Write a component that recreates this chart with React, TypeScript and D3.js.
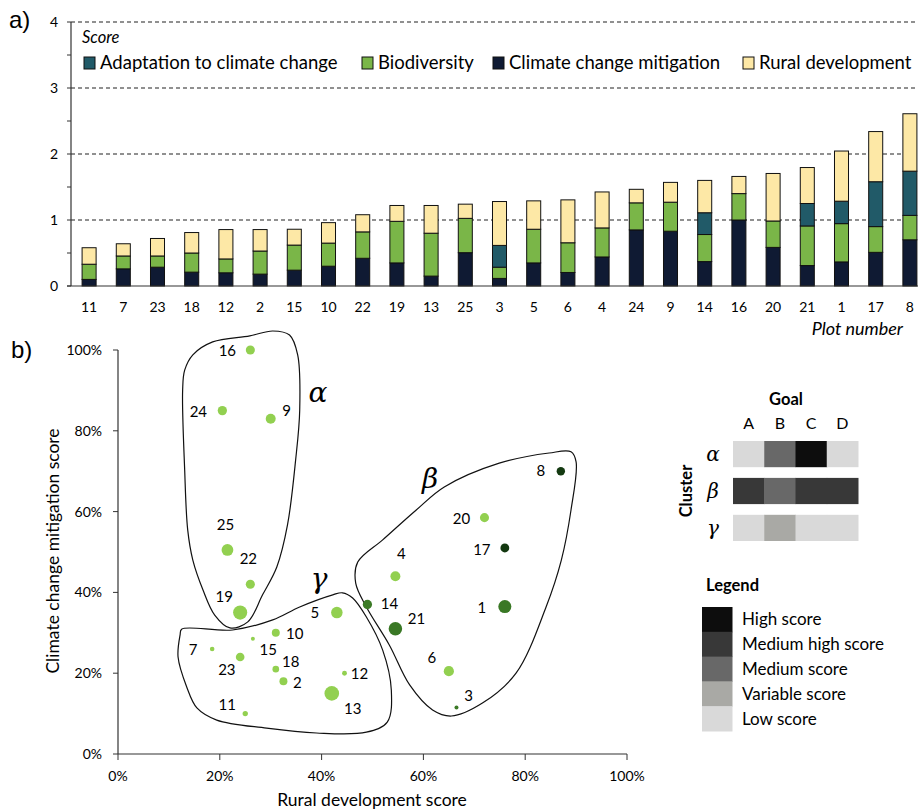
import React, { useRef, useEffect } from "react";
import * as d3 from "d3";

// plot numbers, in the order of panel a)
const plots = ["11", "7", "23", "18", "12", "2", "15", "10", "22", "19", "13", "25", "3", "5", "6", "4", "24", "9", "14", "16", "20", "21", "1", "17", "8"];
const mitigation = [0.10, 0.26, 0.285, 0.21, 0.20, 0.18, 0.24, 0.30, 0.42, 0.35, 0.15, 0.505, 0.115, 0.35, 0.205, 0.44, 0.85, 0.83, 0.37, 1.00, 0.585, 0.31, 0.365, 0.51, 0.70];
const biodiversity = [0.23, 0.195, 0.17, 0.29, 0.21, 0.35, 0.38, 0.35, 0.40, 0.63, 0.65, 0.52, 0.17, 0.51, 0.45, 0.44, 0.41, 0.44, 0.41, 0.40, 0.40, 0.60, 0.58, 0.39, 0.37];
const adaptation = [0, 0, 0, 0, 0, 0, 0, 0, 0, 0, 0, 0, 0.33, 0, 0, 0, 0, 0, 0.33, 0, 0, 0.34, 0.34, 0.68, 0.67];
const rural = [0.25, 0.185, 0.265, 0.31, 0.445, 0.325, 0.24, 0.31, 0.26, 0.24, 0.42, 0.215, 0.665, 0.43, 0.65, 0.545, 0.205, 0.30, 0.49, 0.26, 0.72, 0.545, 0.76, 0.76, 0.87];

const scoreTicks = [0, 1, 2, 3, 4];
const pctTicks = [0, 0.2, 0.4, 0.6, 0.8, 1];

// cluster outlines in (rural, mitigation) units
const hullAlpha = [[0.127, 0.901], [0.131, 0.703], [0.137, 0.554], [0.147, 0.48], [0.167, 0.406], [0.19, 0.344], [0.22, 0.312], [0.255, 0.327], [0.284, 0.394], [0.312, 0.463], [0.333, 0.567], [0.349, 0.728], [0.357, 0.851], [0.353, 0.988], [0.337, 1.037], [0.304, 1.047], [0.259, 1.035], [0.186, 1.02], [0.147, 0.988], [0.131, 0.95]];
const hullBeta = [[0.52, 0.53], [0.586, 0.604], [0.641, 0.661], [0.749, 0.72], [0.847, 0.745], [0.89, 0.748], [0.9, 0.723], [0.89, 0.604], [0.871, 0.48], [0.841, 0.364], [0.782, 0.2], [0.716, 0.126], [0.655, 0.094], [0.618, 0.109], [0.573, 0.171], [0.533, 0.27], [0.488, 0.364], [0.467, 0.423], [0.471, 0.475]];
const hullGamma = [[0.125, 0.309], [0.225, 0.307], [0.304, 0.332], [0.357, 0.364], [0.422, 0.394], [0.441, 0.399], [0.461, 0.386], [0.488, 0.339], [0.52, 0.257], [0.537, 0.158], [0.529, 0.079], [0.488, 0.054], [0.39, 0.052], [0.292, 0.064], [0.194, 0.084], [0.155, 0.114], [0.135, 0.166], [0.118, 0.24], [0.122, 0.295]];

const goals = ["A", "B", "C", "D"];
const clusters = ["α", "β", "γ"];
const levels = ["High score", "Medium high score", "Medium score", "Variable score", "Low score"];
const clusterLevels = [
  ["Low score", "Medium score", "High score", "Low score"],
  ["Medium high score", "Medium score", "Medium high score", "Medium high score"],
  ["Low score", "Variable score", "Low score", "Low score"],
];

const FONT = "Lato, 'Open Sans', sans-serif";

// label placement around each point (text centre, px)
const labelOffsets = {
  "16": [-23, 1], "24": [-24, 1], "9": [16, -8], "25": [-2, -25], "22": [-2, -26], "19": [-16, -16],
  "5": [-22, 0], "10": [19, 1], "15": [28, -7], "23": [-26, 31], "7": [-19, 1], "18": [15, -7],
  "2": [14, 1], "12": [15, 1], "13": [21, 15], "11": [-18, -9], "14": [22, -1], "21": [21, -10],
  "4": [6, -22], "6": [-17, -13], "3": [12, -12], "1": [-23, 1], "17": [-23, 2], "20": [-23, 1], "8": [-20, 0],
};

const App = () => {
  const svgRef = useRef(null);

  useEffect(() => {
    const svg = d3.select(svgRef.current);
    svg.selectAll("*").remove();

    const rows = plots.map((p, i) => ({
      plot: p,
      mitigation: mitigation[i],
      biodiversity: biodiversity[i],
      adaptation: adaptation[i],
      rural: rural[i],
    }));

    // ---------- panel a) stacked bars ----------
    const keys = ["mitigation", "biodiversity", "adaptation", "rural"];
    const colors = { mitigation: "#0f1a33", biodiversity: "#7ab648", adaptation: "#215a68", rural: "#fde8a6" };

    const x = d3.scaleBand().domain(plots).range([72, 927]).paddingInner(0.59).paddingOuter(0.295);
    const y = d3.scaleLinear().domain([0, 4]).range([286, 22]);

    const a = svg.append("g");

    // dashed grid
    a.selectAll(".grid")
      .data(scoreTicks.filter((d) => d > 0))
      .enter()
      .append("line")
      .attr("x1", 71)
      .attr("x2", 918)
      .attr("y1", (d) => y(d))
      .attr("y2", (d) => y(d))
      .attr("stroke", "#222")
      .attr("stroke-width", 1.2)
      .attr("stroke-dasharray", "4,3");

    const stack = d3.stack().keys(keys)(rows);
    a.selectAll(".layer")
      .data(stack)
      .enter()
      .append("g")
      .attr("fill", (d) => colors[d.key])
      .selectAll("rect")
      .data((d) => d.filter((s) => s[1] - s[0] > 0))
      .enter()
      .append("rect")
      .attr("x", (d) => x(d.data.plot))
      .attr("y", (d) => y(d[1]))
      .attr("width", x.bandwidth())
      .attr("height", (d) => y(d[0]) - y(d[1]))
      .attr("stroke", "#111")
      .attr("stroke-width", 1);

    // axes
    a.append("line").attr("x1", 71).attr("x2", 71).attr("y1", 22).attr("y2", 286).attr("stroke", "#333").attr("stroke-width", 1.2);
    a.append("line").attr("x1", 67).attr("x2", 918).attr("y1", 286).attr("y2", 286).attr("stroke", "#333").attr("stroke-width", 1.2);
    a.selectAll(".ytick")
      .data(d3.range(0, 4.01, 0.5))
      .enter()
      .append("line")
      .attr("x1", 67)
      .attr("x2", 71)
      .attr("y1", (d) => y(d))
      .attr("y2", (d) => y(d))
      .attr("stroke", "#333");
    a.selectAll(".ylab")
      .data(scoreTicks)
      .enter()
      .append("text")
      .attr("x", 58)
      .attr("y", (d) => y(d))
      .attr("dy", "0.35em")
      .attr("text-anchor", "end")
      .style("font", `14px ${FONT}`)
      .text((d) => d);
    a.selectAll(".xlab")
      .data(plots)
      .enter()
      .append("text")
      .attr("x", (d) => x(d) + x.bandwidth() / 2)
      .attr("y", 312)
      .attr("text-anchor", "middle")
      .style("font", `14px ${FONT}`)
      .text((d) => d);
    a.append("text")
      .attr("x", 903)
      .attr("y", 335)
      .attr("text-anchor", "end")
      .style("font", `italic 18px ${FONT}`)
      .text("Plot number");

    // legend
    a.append("text").attr("x", 82).attr("y", 43).style("font", `italic 16.5px ${FONT}`).text("Score");
    const legendItems = [
      ["adaptation", "Adaptation to climate change", 84],
      ["biodiversity", "Biodiversity", 362],
      ["mitigation", "Climate change mitigation", 493],
      ["rural", "Rural development", 743],
    ];
    legendItems.forEach(([k, label, lx]) => {
      a.append("rect").attr("x", lx).attr("y", 57).attr("width", 11).attr("height", 12)
        .attr("fill", colors[k]).attr("stroke", "#111").attr("stroke-width", 1);
      a.append("text").attr("x", lx + 16).attr("y", 69).style("font", `18.5px ${FONT}`).text(label);
    });

    svg.append("text").attr("x", 9).attr("y", 28).style("font", "24px 'Liberation Sans', Arial, sans-serif").text("a)");
    svg.append("text").attr("x", 11).attr("y", 358).style("font", "24px 'Liberation Sans', Arial, sans-serif").text("b)");

    // ---------- panel b) scatter ----------
    const xs = d3.scaleLinear().domain([0, 1]).range([118, 627]);
    const ys = d3.scaleLinear().domain([0, 1]).range([754, 350]);
    const r = d3.scaleLinear().domain([0.17, 0.65]).range([2, 7.3]);
    const fill = d3.scaleLinear().domain([0, 0.33, 0.68]).range(["#92d050", "#3b7a26", "#133810"]);

    const b = svg.append("g");
    b.append("line").attr("x1", 118).attr("x2", 118).attr("y1", 350).attr("y2", 754).attr("stroke", "#333").attr("stroke-width", 1.2);
    b.append("line").attr("x1", 118).attr("x2", 627).attr("y1", 754).attr("y2", 754).attr("stroke", "#333").attr("stroke-width", 1.2);
    b.selectAll(".yt")
      .data(pctTicks)
      .enter()
      .append("line")
      .attr("x1", 113).attr("x2", 118)
      .attr("y1", (d) => ys(d)).attr("y2", (d) => ys(d))
      .attr("stroke", "#333");
    b.selectAll(".xt")
      .data(pctTicks)
      .enter()
      .append("line")
      .attr("x1", (d) => xs(d)).attr("x2", (d) => xs(d))
      .attr("y1", 754).attr("y2", 760)
      .attr("stroke", "#333");
    b.selectAll(".yl")
      .data(pctTicks)
      .enter()
      .append("text")
      .attr("x", 102)
      .attr("y", (d) => ys(d))
      .attr("dy", "0.35em")
      .attr("text-anchor", "end")
      .style("font", `14px ${FONT}`)
      .text(d3.format(".0%"));
    b.selectAll(".xl")
      .data(pctTicks)
      .enter()
      .append("text")
      .attr("x", (d) => xs(d))
      .attr("y", 776)
      .attr("dy", "0.35em")
      .attr("text-anchor", "middle")
      .style("font", `14px ${FONT}`)
      .text(d3.format(".0%"));
    b.append("text")
      .attr("x", 372)
      .attr("y", 806)
      .attr("text-anchor", "middle")
      .style("font", `17.5px ${FONT}`)
      .text("Rural development score");
    b.append("text")
      .attr("transform", "translate(59,551) rotate(-90)")
      .attr("text-anchor", "middle")
      .style("font", `17.5px ${FONT}`)
      .text("Climate change mitigation score");

    // cluster outlines
    const hullLine = d3.line().x((d) => xs(d[0])).y((d) => ys(d[1])).curve(d3.curveCatmullRomClosed.alpha(0.5));
    [hullAlpha, hullBeta, hullGamma].forEach((h) => {
      b.append("path").attr("d", hullLine(h)).attr("fill", "none").attr("stroke", "#111").attr("stroke-width", 1.2);
    });
    const greek = (t, gx, gy) =>
      b.append("text").attr("x", gx).attr("y", gy).attr("text-anchor", "middle")
        .style("font", "italic 28px 'DejaVu Serif', serif").text(t);
    greek("α", 318, 402);
    greek("β", 430, 488);
    greek("γ", 319, 588);

    // points
    b.selectAll(".pt")
      .data(rows)
      .enter()
      .append("circle")
      .attr("cx", (d) => xs(d.rural))
      .attr("cy", (d) => ys(d.mitigation))
      .attr("r", (d) => r(d.biodiversity))
      .attr("fill", (d) => fill(d.adaptation));
    b.selectAll(".pl")
      .data(rows)
      .enter()
      .append("text")
      .attr("x", (d) => xs(d.rural) + labelOffsets[d.plot][0])
      .attr("y", (d) => ys(d.mitigation) + labelOffsets[d.plot][1])
      .attr("dy", "0.35em")
      .attr("text-anchor", "middle")
      .style("font", `15px ${FONT}`)
      .text((d) => d.plot);

    // ---------- cluster / goal matrix ----------
    const shade = d3.scaleOrdinal().domain(levels).range(["#0d0d0d", "#383838", "#686868", "#a9a9a5", "#d9d9d9"]);
    const gx = d3.scaleBand().domain(goals).range([733, 858]);
    const gy = d3.scaleBand().domain(clusters).range([441, 541]).paddingInner(0.29);

    const m = svg.append("g");
    m.append("text").attr("x", 786).attr("y", 405).attr("text-anchor", "middle").style("font", `bold 16.5px ${FONT}`).text("Goal");
    m.selectAll(".gh")
      .data(goals)
      .enter()
      .append("text")
      .attr("x", (d) => gx(d) + gx.bandwidth() / 2)
      .attr("y", 429)
      .attr("text-anchor", "middle")
      .style("font", `16px ${FONT}`)
      .text((d) => d);
    clusters.forEach((c, ci) => {
      m.selectAll(".c" + ci)
        .data(goals)
        .enter()
        .append("rect")
        .attr("x", (d) => gx(d))
        .attr("y", gy(c))
        .attr("width", gx.bandwidth() + 0.5)
        .attr("height", gy.bandwidth())
        .attr("fill", (d, gi) => shade(clusterLevels[ci][gi]));
      m.append("text")
        .attr("x", 713)
        .attr("y", gy(c) + gy.bandwidth() / 2)
        .attr("dy", "0.35em")
        .attr("text-anchor", "middle")
        .style("font", "italic 20px 'DejaVu Serif', serif")
        .text(c);
    });
    m.append("text")
      .attr("transform", "translate(692,491) rotate(-90)")
      .attr("text-anchor", "middle")
      .style("font", `bold 16.5px ${FONT}`)
      .text("Cluster");

    // level legend
    const ly = d3.scaleBand().domain(levels).range([607, 731]);
    m.append("text").attr("x", 706).attr("y", 591).style("font", `bold 16.5px ${FONT}`).text("Legend");
    m.selectAll(".lv")
      .data(levels)
      .enter()
      .append("rect")
      .attr("x", 702)
      .attr("y", (d) => ly(d))
      .attr("width", 30.5)
      .attr("height", ly.bandwidth() + 0.5)
      .attr("fill", (d) => shade(d));
    m.selectAll(".lt")
      .data(levels)
      .enter()
      .append("text")
      .attr("x", 742)
      .attr("y", (d) => ly(d) + ly.bandwidth() / 2)
      .attr("dy", "0.35em")
      .style("font", `17px ${FONT}`)
      .text((d) => d);
  }, []);

  return (
    <svg
      ref={svgRef}
      width={920}
      height={811}
      style={{ position: "absolute", left: 0, top: 0, background: "#fff" }}
    />
  );
};

export default App;
